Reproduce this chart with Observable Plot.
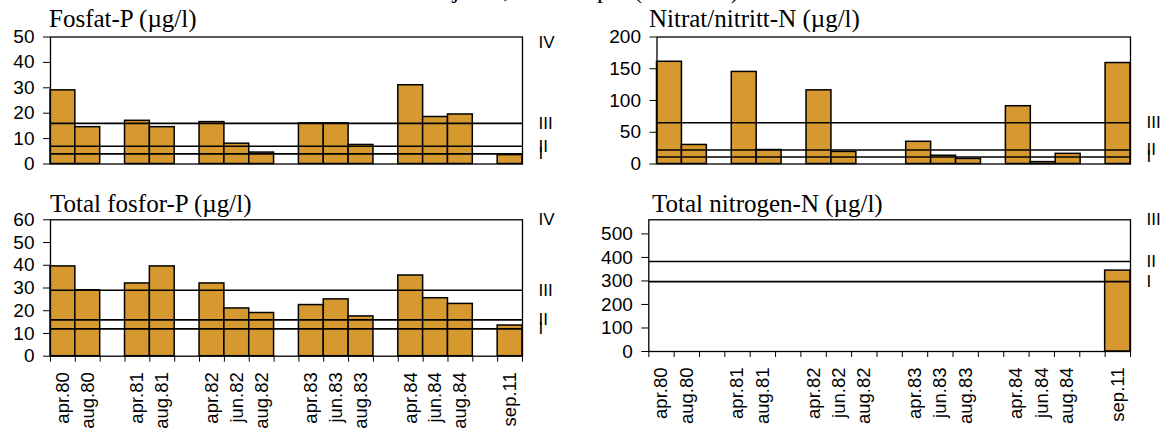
<!DOCTYPE html>
<html>
<head>
<meta charset="utf-8">
<script src="https://cdn.jsdelivr.net/npm/d3@7"></script>
<script src="https://cdn.jsdelivr.net/npm/@observablehq/plot@0.6"></script>
<style>
  html, body { margin: 0; padding: 0; background: #fff; }
  #root { position: relative; width: 1164px; height: 432px; overflow: hidden; background: #fff; }
  .panel { position: absolute; }
  .ttl { position: absolute; font-family: "Liberation Serif", "Times New Roman", serif; font-size: 25px; line-height: 25px; color: #000; white-space: nowrap; }
</style>
</head>
<body>
<div id="root"></div>
<script>
// ---- data ----
const mainTitle = "Stasjon 1, ved utløpet (overflate)";
const slots = ["apr.80","aug.80","","apr.81","aug.81","","apr.82","jun.82","aug.82","","apr.83","jun.83","aug.83","","apr.84","jun.84","aug.84","","sep.11"];

const fosfatP = [29, 14.5, null, 17, 14.5, null, 16.5, 8, 4.5, null, 16, 16, 7.5, null, 31, 18.5, 19.5, null, 3.5];
const nitratN = [161, 30, null, 145, 22, null, 116, 19, null, null, 35, 13, 8, null, 91, 3, 16, null, 159];
const totalP  = [39.5, 29, null, 32, 39.5, null, 32, 21, 19, null, 22.5, 25, 17.5, null, 35.5, 25.5, 23, null, 13.5];
const totalN  = [null, null, null, null, null, null, null, null, null, null, null, null, null, null, null, null, null, null, 344];

const fosfatLimits = [16, 7, 4];
const nitratLimits = [65, 22, 11];
const totalPLimits = [29, 16, 12];
const totalNLimits = [383, 297];

const fosfatClasses = [{t:"IV", v:48}, {t:"III", v:16}, {t:"II", v:7}, {t:"I", v:4}];
const nitratClasses = [{t:"III", v:65}, {t:"II", v:22}, {t:"I", v:11}];
const totalPClasses = [{t:"IV", v:60}, {t:"III", v:29}, {t:"II", v:16}, {t:"I", v:12}];
const totalNClasses = [{t:"III", v:560}, {t:"II", v:383}, {t:"I", v:297}];

const fosfatTicks = [0,10,20,30,40,50];
const nitratTicks = [0,50,100,150,200];
const totalPTicks = [0,10,20,30,40,50,60];
const totalNTicks = [0,100,200,300,400,500];

// ---- drawing ----
const BAR = "#D5992F";
const root = document.getElementById("root");

function addTitle(text, left, top) {
  const d = document.createElement("div");
  d.className = "ttl";
  d.textContent = text;
  d.style.left = left + "px";
  d.style.top = top + "px";
  root.appendChild(d);
}

function panel({values, limits, classes, ticks, yMax, left, top, width, height, mt, mb, ml, mr, labels}) {
  const rows = values.map((v, i) => ({i, v})).filter(d => d.v != null);
  const slotRows = slots.map((s, i) => ({i, s}));
  const marks = [
    Plot.rect(rows, {x1: "i", x2: d => d.i + 1, y1: 0, y2: "v", fill: BAR, stroke: "#000", strokeWidth: 1.5}),
    Plot.ruleY(limits, {stroke: "#000", strokeWidth: 1.6}),
    Plot.frame({stroke: "#000", strokeWidth: 1.3}),
    Plot.axisY(ticks, {tickSize: 7, tickPadding: 9, fontSize: 19, stroke: "#000", label: null}),
    Plot.text(classes, {x: slots.length, y: "v", text: "t", dx: 16, textAnchor: "start", fontSize: 17, fill: "#000"})
  ];
  if (labels) {
    marks.push(Plot.axisX(d3.range(slots.length + 1), {tickSize: 6, tickFormat: () => "", stroke: "#000", label: null}));
    marks.push(Plot.text(slotRows, {x: d => d.i + 0.5, y: 0, text: "s", rotate: -90, textAnchor: "end", lineAnchor: "middle", dy: 16, fontSize: 18.5, fill: "#000"}));
  }
  const chart = Plot.plot({
    width, height,
    marginTop: mt, marginBottom: mb, marginLeft: ml, marginRight: mr,
    x: {domain: [0, slots.length], axis: null, label: null},
    y: {domain: [0, yMax], axis: null, label: null},
    style: {fontFamily: "'Liberation Sans', Arial, sans-serif", color: "#000", background: "transparent", overflow: "visible"},
    marks
  });
  const wrap = document.createElement("div");
  wrap.className = "panel";
  wrap.style.left = left + "px";
  wrap.style.top = top + "px";
  wrap.appendChild(chart);
  root.appendChild(wrap);
}

panel({values: fosfatP, limits: fosfatLimits, classes: fosfatClasses, ticks: fosfatTicks, yMax: 50,
  left: 0, top: 0, width: 600, height: 175, mt: 36.5, mb: 11.5, ml: 50, mr: 78, labels: false});
panel({values: nitratN, limits: nitratLimits, classes: nitratClasses, ticks: nitratTicks, yMax: 200,
  left: 600, top: 0, width: 564, height: 175, mt: 36.5, mb: 11.5, ml: 56.5, mr: 34, labels: false});
panel({values: totalP, limits: totalPLimits, classes: totalPClasses, ticks: totalPTicks, yMax: 60,
  left: 0, top: 180, width: 600, height: 252, mt: 39.3, mb: 76.3, ml: 50, mr: 78, labels: true});
panel({values: totalN, limits: totalNLimits, classes: totalNClasses, ticks: totalNTicks, yMax: 560,
  left: 600, top: 180, width: 564, height: 252, mt: 39.3, mb: 81, ml: 48.3, mr: 34, labels: true});

addTitle("Fosfat-P (µg/l)", 49, 6);
addTitle("Nitrat/nitritt-N (µg/l)", 649, 6);
addTitle("Total fosfor-P (µg/l)", 50, 191);
addTitle("Total nitrogen-N (µg/l)", 652, 191);

const mt = document.createElement("div");
mt.className = "ttl";
mt.textContent = mainTitle;
mt.style.left = "0px"; mt.style.width = "1150px"; mt.style.textAlign = "center";
mt.style.top = "-23px";
root.appendChild(mt);
</script>
</body>
</html>
